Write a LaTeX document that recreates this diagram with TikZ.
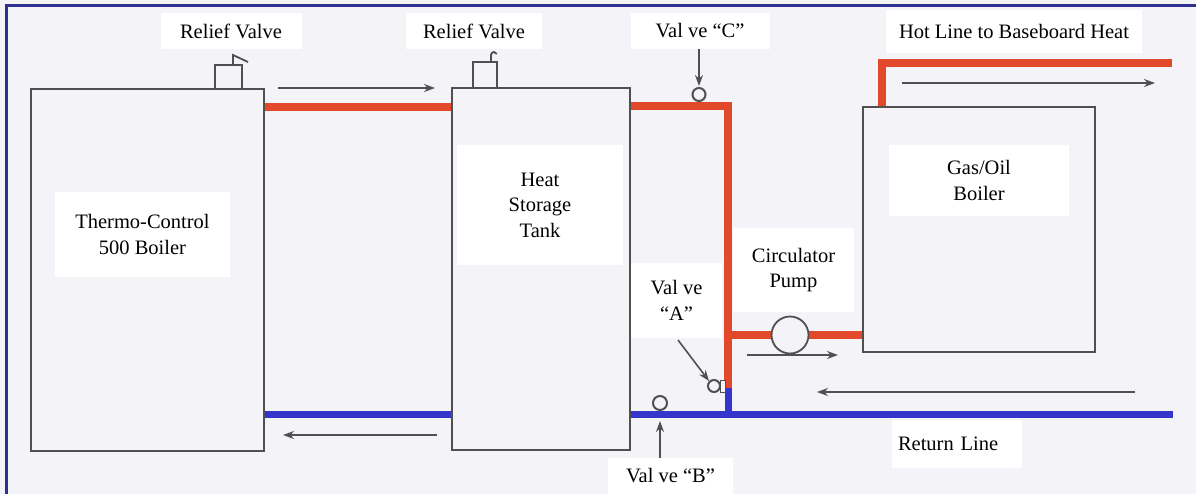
\documentclass[tikz,border=0pt]{standalone}
\usepackage{fontspec}
\setmainfont{Liberation Serif}
\newfontfamily\lblfont{Liberation Serif}
\usetikzlibrary{arrows.meta}
\definecolor{bgc}{HTML}{F4F4F8}
\definecolor{hotc}{HTML}{E2482A}
\definecolor{coldc}{HTML}{3535CC}
\definecolor{framec}{HTML}{2E3192}
\definecolor{linec}{HTML}{505050}
\begin{document}
\begin{tikzpicture}[x=1pt,y=-1pt,
  unit/.style={draw=linec, line width=2.2pt, rectangle, inner sep=0pt},
  lbl/.style={fill=white, inner sep=0pt, align=center, font=\lblfont\fontsize{20.5}{25.5}\selectfont},
  hot/.style={draw=hotc, line width=8pt, line join=miter},
  cold/.style={draw=coldc, line width=7pt},
  flow/.style={draw=linec, line width=1.6pt, -{Stealth[length=11pt,width=8pt]}},
  valve/.style={circle, draw=linec, line width=2pt, fill=bgc, minimum size=13pt, inner sep=0pt},
  relief/.style={draw=linec, line width=1.8pt},
]
\useasboundingbox (0,0) rectangle (1196,493);
\fill[bgc] (-6,-6) rectangle (1202,499);
% frame (top and left only)
\draw[framec, line width=3pt] (6.5,499) -- (6.5,5) -- (1202,5);

% equipment
\node[unit, minimum width=233pt, minimum height=362pt] (thermo) at (147.5,270) {};
\node[unit, minimum width=178pt, minimum height=362pt] (tank) at (541,269) {};
\node[unit, minimum width=232pt, minimum height=245pt] (gas) at (979,229.5) {};

% key points
\coordinate (cC) at (728,106);
\coordinate (tee) at (728,335);
\coordinate (vAjoin) at (728,388);
\coordinate (rjoin) at (728,414);
\coordinate (retend) at (1173,414);
\coordinate (hotup) at (882,63);
\coordinate (hotend) at (1172,63);

% pipes
\draw[hot] (thermo.east |- 0,107) -- (tank.west |- 0,107);
\draw[hot] (tank.east |- cC) -- (cC) -- (vAjoin);
\draw[hot] (tee) -- (gas.west |- tee);
\draw[hot] (gas.north -| hotup) -- (hotup) -- (hotend);
\draw[cold] (thermo.east |- 0,414) -- (tank.west |- 0,414);
\draw[cold] (tank.east |- rjoin) -- (retend);
\draw[cold] (vAjoin) -- ([yshift=3pt]rjoin);

% redraw unit outlines above pipes
\node[unit, minimum width=233pt, minimum height=362pt] at (thermo) {};
\node[unit, minimum width=178pt, minimum height=362pt] at (tank) {};
\node[unit, minimum width=232pt, minimum height=245pt] at (gas) {};

% relief valves
\draw[relief] (215,89) -- (215,65) -- (242,65) -- (242,89);
\draw[relief] (233,65) -- (233,55) -- (248,62);
\draw[relief] (473,88) -- (473,62) -- (497,62) -- (497,88);
\draw[relief] (491,62) -- (491,55) arc[start angle=180, end angle=20, radius=3pt];

% valves and pump
\node[valve] (vC) at (699,94.5) {};
\node[valve, minimum size=14pt] (vB) at (660,403) {};
\node[valve, minimum size=12pt] (vA) at (714,386) {};
\draw[linec, line width=1pt, fill=bgc] (720,380) rectangle (725,392);
\node[circle, draw=linec, line width=1.8pt, fill=bgc, minimum size=37pt, inner sep=0pt] (pump) at (790,335) {};

% flow arrows
\coordinate (a1s) at (278,88);  \coordinate (a1e) at (435,88);
\coordinate (a2s) at (437,435); \coordinate (a2e) at (283,435);
\coordinate (a3s) at (747,355); \coordinate (a3e) at (838,355);
\coordinate (a4s) at (1135,392);\coordinate (a4e) at (817,392);
\coordinate (a5s) at (902,83);  \coordinate (a5e) at (1155,83);
\draw[flow] (a1s) -- (a1e);
\draw[flow] (a2s) -- (a2e);
\draw[flow] (a3s) -- (a3e);
\draw[flow] (a4s) -- (a4e);
\draw[flow] (a5s) -- (a5e);

% labels
\node[lbl, minimum width=141pt, minimum height=36pt] (lrv1) at (231,31) {Relief Valve};
\node[lbl, minimum width=136pt, minimum height=36pt] (lrv2) at (474,31) {Relief Valve};
\node[lbl, minimum width=139pt, minimum height=36pt] (lvC) at (700,31) {Val ve “C”};
\node[lbl, minimum width=256pt, minimum height=43pt] (lhot) at (1014,31) {Hot Line to Baseboard Heat};
\node[lbl, minimum width=175pt, minimum height=85pt] (lthermo) at (142.5,234.5) {Thermo-Control\\500 Boiler};
\node[lbl, minimum width=166pt, minimum height=120pt] (ltank) at (540,205) {Heat\\Storage\\Tank};
\node[lbl, minimum width=180pt, minimum height=71pt] (lgas) at (979,180.5) {Gas/Oil\\Boiler};
\node[lbl, minimum width=121pt, minimum height=84pt] (lpump) at (793.5,270) {Circulator\\Pump};
\node[lbl, minimum width=91pt, minimum height=75pt] (lvA) at (676.5,300.5) {Val ve\\“A”};
\node[lbl, minimum width=125pt, minimum height=36pt] (lvB) at (670.5,476) {Val ve “B”};
\node[lbl, minimum width=130pt, minimum height=48pt, text width=118pt, align=left] (lret) at (957,444) {Return Line};

% valve pointers
\coordinate (pC) at (699,86);
\coordinate (pB) at (660,421);
\draw[flow] (lvC.south -| vC) -- (pC);
\draw[flow] (lvB.north -| vB) -- (pB);
\draw[flow] (678,340) -- (vA.north west);
\end{tikzpicture}
\end{document}
